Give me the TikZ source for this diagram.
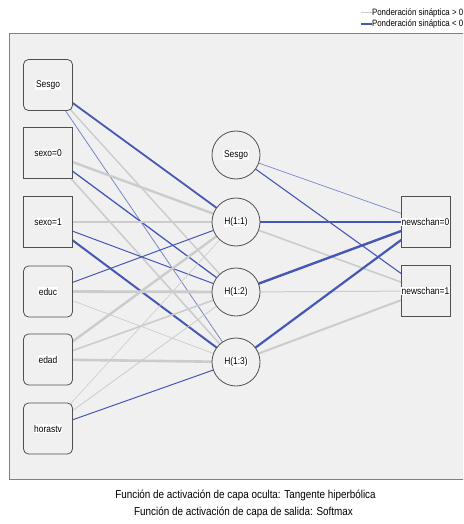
\documentclass[tikz,border=0pt]{standalone}
\usepackage{fontspec}
\setmainfont[FakeStretch=0.86]{Liberation Sans}
\definecolor{panelc}{RGB}{240,240,240}
\definecolor{wposc}{RGB}{204,204,204}
\definecolor{wnegc}{RGB}{70,88,180}
\definecolor{wneglc}{RGB}{120,135,200}
\definecolor{edgec}{RGB}{80,80,80}
\newcommand{\nnlab}[1]{{\setlength{\fboxsep}{0.6pt}\colorbox{white}{#1}}}
\tikzset{
  nfont/.style={font=\fontsize{9.8}{11}\selectfont},
  inround/.style={draw=edgec, fill=panelc, rounded corners=5pt, minimum width=49pt, minimum height=51pt, inner sep=0pt, nfont, line width=0.8pt},
  insq/.style={draw=edgec, fill=panelc, minimum width=49pt, minimum height=51pt, inner sep=0pt, nfont, line width=0.8pt},
  hid/.style={draw=edgec, fill=panelc, circle, minimum size=48pt, inner sep=0pt, nfont, line width=0.8pt},
  pw/.style={draw=wposc, line width=#1},
  nw/.style={draw=wnegc, line width=#1},
  nlw/.style={draw=wneglc, line width=#1},
  legtext/.style={anchor=east, inner sep=0pt, font=\fontsize{9.2}{10}\selectfont},
  foot/.style={inner sep=0pt, font=\fontsize{11.5}{13}\selectfont},
}
\begin{document}
\begin{tikzpicture}[x=1pt,y=-1pt]
\useasboundingbox (0,0) rectangle (463,524);
\fill[white] (0,0) rectangle (463,524);
\begin{scope}
\clip (0,0) rectangle (463,524);
\fill[panelc] (9,34) rectangle (470,479);
\draw[draw=gray, line width=1pt] (470,34) -- (9,34) -- (9,479) -- (470,479);
\node[legtext] (lt1) at (463.5,13) {Ponderación sináptica > 0};
\node[legtext] (lt2) at (463.5,24) {Ponderación sináptica < 0};
\end{scope}
% legend
\coordinate (lg1a) at (361,13); \coordinate (lg2a) at (361,24);
\draw[wposc, line width=1pt] (lg1a) -- (lt1.west);
\draw[wnegc, line width=1.2pt] (lg2a) -- (lt2.west);
% node positions
\coordinate (S) at (48,85);
\coordinate (S0) at (48,153);
\coordinate (S1) at (48,222);
\coordinate (ED) at (48,291.5);
\coordinate (EA) at (48,359.5);
\coordinate (HT) at (48,428.5);
\coordinate (HS) at (236,155);
\coordinate (H1) at (236,222);
\coordinate (H2) at (236,292);
\coordinate (H3) at (236,362);
\coordinate (O0) at (425.5,222);
\coordinate (O1) at (425.5,291);
% input -> hidden
\draw[pw=1.4pt] (S) -- (H2);
\draw[nlw=0.8pt] (S) -- (H3);
\draw[nw=1.8pt] (S) -- (H1);
\draw[pw=2.4pt] (S0) -- (H1);
\draw[pw=1.6pt] (S0) -- (H3);
\draw[nw=1.3pt] (S0) -- (H2);
\draw[pw=1.6pt] (S1) -- (H1);
\draw[nw=1.0pt] (S1) -- (H2);
\draw[nw=2.0pt] (S1) -- (H3);
\draw[pw=2.8pt] (ED) -- (H2);
\draw[pw=0.7pt] (ED) -- (H3);
\draw[nw=1.0pt] (ED) -- (H1);
\draw[pw=2.4pt] (EA) -- (H1);
\draw[pw=1.6pt] (EA) -- (H2);
\draw[pw=2.6pt] (EA) -- (H3);
\draw[pw=0.6pt] (HT) -- (H1);
\draw[pw=0.8pt] (HT) -- (H2);
\draw[nw=1.0pt] (HT) -- (H3);
% hidden -> output
\draw[pw=1.6pt] (H1) -- (O1);
\draw[pw=1.0pt] (H2) -- (O1);
\draw[pw=2.0pt] (H3) -- (O1);
\draw[nlw=0.7pt] (HS) -- (O0);
\draw[nw=1.1pt] (HS) -- (O1);
\draw[nw=1.4pt] (H1) -- (O0);
\draw[nw=2.4pt] (H2) -- (O0);
\draw[nw=2.2pt] (H3) -- (O0);
% nodes
\node[inround] (nS) at (S) {\nnlab{Sesgo}};
\node[insq] (nS0) at (S0) {\nnlab{sexo=0}};
\node[insq] (nS1) at (S1) {\nnlab{sexo=1}};
\node[inround] (nED) at (ED) {\nnlab{educ}};
\node[inround] (nEA) at (EA) {\nnlab{edad}};
\node[inround] (nHT) at (HT) {\nnlab{horastv}};
\node[hid] (nHS) at (HS) {\nnlab{Sesgo}};
\node[hid] (nH1) at (H1) {\nnlab{H(1:1)}};
\node[hid] (nH2) at (H2) {\nnlab{H(1:2)}};
\node[hid] (nH3) at (H3) {\nnlab{H(1:3)}};
\node[insq] (nO0) at (O0) {\nnlab{newschan=0}};
\node[insq] (nO1) at (O1) {\nnlab{newschan=1}};
% footer
\node[foot] (f1) at (245.5,495) {Función de activación de capa oculta: Tangente hiperbólica};
\node[foot] (f2) at (243.5,512) {Función de activación de capa de salida: Softmax};
\end{tikzpicture}
\end{document}
